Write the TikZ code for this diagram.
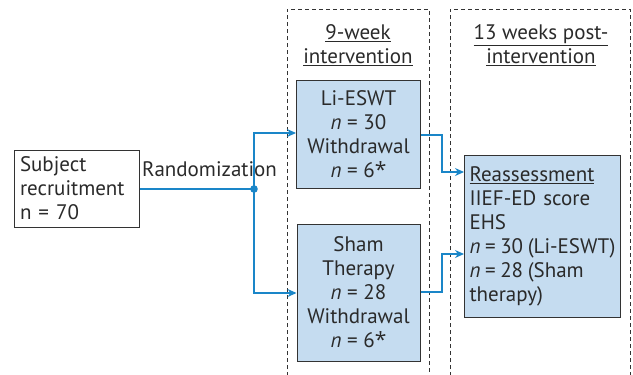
\documentclass[tikz,border=0pt]{standalone}
\usepackage{fontspec}
\setmainfont{PT Sans}
\newfontfamily\starfont{Open Sans}
\usetikzlibrary{arrows.meta}
\definecolor{boxblue}{HTML}{C5DCF0}
\definecolor{linkblue}{HTML}{1A86C8}
\definecolor{edge}{HTML}{333333}
\definecolor{ink}{HTML}{2A2A2A}
\newcommand{\nvar}{\textit{n}}
\newcommand{\fnmark}{{\starfont *}}
\begin{document}
\begin{tikzpicture}[x=1pt,y=-1pt,
  txt/.style={font=\fontsize{21}{24}\selectfont, text=ink, inner sep=0pt},
  plainbox/.style={txt, draw=edge, line width=1pt, fill=white},
  armbox/.style={txt, draw=edge, line width=1pt, fill=boxblue, align=center},
  phase/.style={draw=edge, line width=0.8pt, dash pattern=on 4pt off 3pt},
  link/.style={draw=linkblue, line width=1.3pt},
  linkarrow/.style={link, -{Stealth[length=9pt,width=8pt]}}]
\useasboundingbox (0,0) rectangle (633,375);

% study phases
\draw[phase] (287,376) -- (287,9) -- (429,9) -- (429,376);
\draw[phase] (450,376) -- (450,9) -- (630,9) -- (630,376);
\node[txt, align=center] (ph1) at (358,45) {\underline{9-week}\\\underline{intervention}};
\node[txt, align=center] (ph2) at (541,45) {\underline{13 weeks post-}\\\underline{intervention}};

% boxes
\node[plainbox, minimum width=125pt, minimum height=77pt, text width=113pt, align=left] (subj) at (76.5,188.5)
  {Subject\\recruitment\\n = 70};
\node[armbox, minimum width=124pt, minimum height=108pt] (li) at (358.5,134)
  {Li-ESWT\\\nvar{} = 30\\Withdrawal\\\nvar{} = 6\fnmark};
\node[armbox, minimum width=123pt, minimum height=137pt] (sham) at (358.5,292.5)
  {Sham\\Therapy\\\nvar{} = 28\\Withdrawal\\\nvar{} = 6\fnmark};
\node[armbox, minimum width=156pt, minimum height=162pt, text width=146pt, align=left] (reas) at (542.5,236)
  {\underline{Reassessment}\\IIEF-ED score\\EHS\\\mbox{\spaceskip=0.22em\nvar{} = 30 (Li-ESWT)}\\\mbox{\spaceskip=0.22em\nvar{} = 28 (Sham}\\therapy)};

\node[txt, anchor=base west] (rand) at (142,176) {Randomization};

% connectors
\coordinate (split) at (254,189);
\draw[link] (subj.east |- split) -- (split);
\fill[linkblue] (split) circle (3.8pt);
\draw[linkarrow] (split) -- (254,133) -- (li.west |- 0,133);
\draw[linkarrow] (split) -- (254,293) -- (sham.west |- 0,293);
\draw[linkarrow] (li.east |- 0,135) -- (442,135) -- (442,172) -- (reas.west |- 0,172);
\draw[linkarrow] (sham.east |- 0,292) -- (442,292) -- (442,254) -- (reas.west |- 0,254);
\end{tikzpicture}
\end{document}
